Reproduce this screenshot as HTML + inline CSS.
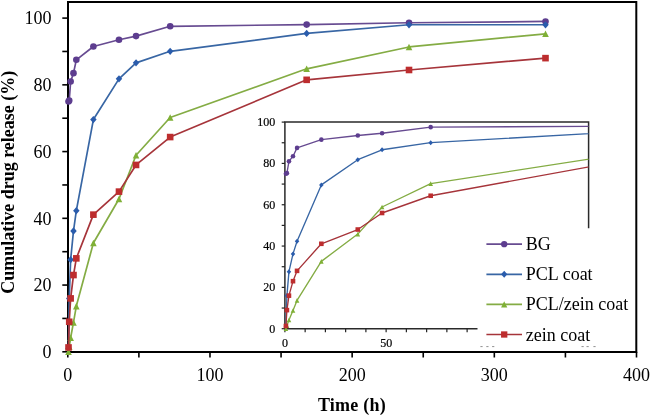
<!DOCTYPE html><html><head><meta charset="utf-8"><style>html,body{margin:0;padding:0;background:#fff;width:650px;height:415px;overflow:hidden}svg{display:block;will-change:transform}text{font-family:"Liberation Serif",serif}</style></head><body>
<svg width="650" height="415" viewBox="0 0 650 415">
<rect width="650" height="415" fill="#fff"/>
<path d="M68 352V2H636.3V352Z" fill="none" stroke="#000" stroke-width="2"/>
<line x1="62.3" y1="351.80" x2="67.8" y2="351.80" stroke="#000" stroke-width="1.6"/>
<line x1="62.3" y1="318.43" x2="67.8" y2="318.43" stroke="#000" stroke-width="1.6"/>
<line x1="62.3" y1="285.06" x2="67.8" y2="285.06" stroke="#000" stroke-width="1.6"/>
<line x1="62.3" y1="251.69" x2="67.8" y2="251.69" stroke="#000" stroke-width="1.6"/>
<line x1="62.3" y1="218.32" x2="67.8" y2="218.32" stroke="#000" stroke-width="1.6"/>
<line x1="62.3" y1="184.95" x2="67.8" y2="184.95" stroke="#000" stroke-width="1.6"/>
<line x1="62.3" y1="151.58" x2="67.8" y2="151.58" stroke="#000" stroke-width="1.6"/>
<line x1="62.3" y1="118.21" x2="67.8" y2="118.21" stroke="#000" stroke-width="1.6"/>
<line x1="62.3" y1="84.84" x2="67.8" y2="84.84" stroke="#000" stroke-width="1.6"/>
<line x1="62.3" y1="51.47" x2="67.8" y2="51.47" stroke="#000" stroke-width="1.6"/>
<line x1="62.3" y1="18.10" x2="67.8" y2="18.10" stroke="#000" stroke-width="1.6"/>
<line x1="67.80" y1="351.8" x2="67.80" y2="357.5" stroke="#000" stroke-width="1.6"/>
<line x1="138.89" y1="351.8" x2="138.89" y2="357.5" stroke="#000" stroke-width="1.6"/>
<line x1="209.98" y1="351.8" x2="209.98" y2="357.5" stroke="#000" stroke-width="1.6"/>
<line x1="281.06" y1="351.8" x2="281.06" y2="357.5" stroke="#000" stroke-width="1.6"/>
<line x1="352.15" y1="351.8" x2="352.15" y2="357.5" stroke="#000" stroke-width="1.6"/>
<line x1="423.24" y1="351.8" x2="423.24" y2="357.5" stroke="#000" stroke-width="1.6"/>
<line x1="494.32" y1="351.8" x2="494.32" y2="357.5" stroke="#000" stroke-width="1.6"/>
<line x1="565.41" y1="351.8" x2="565.41" y2="357.5" stroke="#000" stroke-width="1.6"/>
<line x1="636.50" y1="351.8" x2="636.50" y2="357.5" stroke="#000" stroke-width="1.6"/>
<polyline points="68.51,101.53 69.22,100.52 70.64,81.50 73.49,73.16 76.33,59.81 93.39,46.46 118.98,39.79 136.04,36.12 170.17,26.28 306.65,24.61 409.02,22.77 545.51,21.44" fill="none" stroke="#674b91" stroke-width="1.7" stroke-linejoin="round"/>
<circle cx="68.51" cy="101.53" r="3.30" fill="#5d3d8f"/>
<circle cx="69.22" cy="100.52" r="3.30" fill="#5d3d8f"/>
<circle cx="70.64" cy="81.50" r="3.30" fill="#5d3d8f"/>
<circle cx="73.49" cy="73.16" r="3.30" fill="#5d3d8f"/>
<circle cx="76.33" cy="59.81" r="3.30" fill="#5d3d8f"/>
<circle cx="93.39" cy="46.46" r="3.30" fill="#5d3d8f"/>
<circle cx="118.98" cy="39.79" r="3.30" fill="#5d3d8f"/>
<circle cx="136.04" cy="36.12" r="3.30" fill="#5d3d8f"/>
<circle cx="170.17" cy="26.28" r="3.30" fill="#5d3d8f"/>
<circle cx="306.65" cy="24.61" r="3.30" fill="#5d3d8f"/>
<circle cx="409.02" cy="22.77" r="3.30" fill="#5d3d8f"/>
<circle cx="545.51" cy="21.44" r="3.30" fill="#5d3d8f"/>
<polyline points="68.51,348.46 69.22,298.41 70.64,259.70 73.49,231.00 76.33,210.64 93.39,119.54 118.98,78.83 136.04,62.82 170.17,51.30 306.65,33.45 409.02,24.77 545.51,24.77" fill="none" stroke="#3866a4" stroke-width="1.7" stroke-linejoin="round"/>
<path d="M68.51 344.83L71.74 348.46L68.51 352.09L65.28 348.46Z" fill="#2a5cac"/>
<path d="M69.22 294.78L72.46 298.41L69.22 302.04L65.99 298.41Z" fill="#2a5cac"/>
<path d="M70.64 256.07L73.88 259.70L70.64 263.33L67.41 259.70Z" fill="#2a5cac"/>
<path d="M73.49 227.37L76.72 231.00L73.49 234.63L70.25 231.00Z" fill="#2a5cac"/>
<path d="M76.33 207.01L79.56 210.64L76.33 214.27L73.10 210.64Z" fill="#2a5cac"/>
<path d="M93.39 115.91L96.63 119.54L93.39 123.17L90.16 119.54Z" fill="#2a5cac"/>
<path d="M118.98 75.20L122.22 78.83L118.98 82.46L115.75 78.83Z" fill="#2a5cac"/>
<path d="M136.04 59.19L139.28 62.82L136.04 66.45L132.81 62.82Z" fill="#2a5cac"/>
<path d="M170.17 47.67L173.40 51.30L170.17 54.93L166.93 51.30Z" fill="#2a5cac"/>
<path d="M306.65 29.82L309.89 33.45L306.65 37.08L303.42 33.45Z" fill="#2a5cac"/>
<path d="M409.02 21.14L412.25 24.77L409.02 28.40L405.79 24.77Z" fill="#2a5cac"/>
<path d="M545.51 21.14L548.74 24.77L545.51 28.40L542.27 24.77Z" fill="#2a5cac"/>
<polyline points="68.51,351.80 69.22,346.79 70.64,337.78 73.49,322.43 76.33,306.08 93.39,243.01 118.98,198.97 136.04,155.25 170.17,117.54 306.65,68.82 409.02,46.97 545.51,33.78" fill="none" stroke="#84ac44" stroke-width="1.7" stroke-linejoin="round"/>
<path d="M68.51 348.50L71.81 355.10L65.21 355.10Z" fill="#7fb036"/>
<path d="M69.22 343.49L72.52 350.09L65.92 350.09Z" fill="#7fb036"/>
<path d="M70.64 334.48L73.94 341.08L67.34 341.08Z" fill="#7fb036"/>
<path d="M73.49 319.13L76.79 325.73L70.19 325.73Z" fill="#7fb036"/>
<path d="M76.33 302.78L79.63 309.38L73.03 309.38Z" fill="#7fb036"/>
<path d="M93.39 239.71L96.69 246.31L90.09 246.31Z" fill="#7fb036"/>
<path d="M118.98 195.67L122.28 202.27L115.68 202.27Z" fill="#7fb036"/>
<path d="M136.04 151.95L139.34 158.55L132.74 158.55Z" fill="#7fb036"/>
<path d="M170.17 114.24L173.47 120.84L166.87 120.84Z" fill="#7fb036"/>
<path d="M306.65 65.52L309.95 72.12L303.35 72.12Z" fill="#7fb036"/>
<path d="M409.02 43.67L412.32 50.27L405.72 50.27Z" fill="#7fb036"/>
<path d="M545.51 30.48L548.81 37.08L542.21 37.08Z" fill="#7fb036"/>
<polyline points="68.51,347.46 69.22,321.77 70.64,298.41 73.49,275.05 76.33,258.36 93.39,214.65 118.98,191.62 136.04,164.93 170.17,137.06 306.65,79.83 409.02,69.99 545.51,58.14" fill="none" stroke="#a6343a" stroke-width="1.7" stroke-linejoin="round"/>
<rect x="65.21" y="344.16" width="6.60" height="6.60" fill="#bd2d2e"/>
<rect x="65.92" y="318.47" width="6.60" height="6.60" fill="#bd2d2e"/>
<rect x="67.34" y="295.11" width="6.60" height="6.60" fill="#bd2d2e"/>
<rect x="70.19" y="271.75" width="6.60" height="6.60" fill="#bd2d2e"/>
<rect x="73.03" y="255.06" width="6.60" height="6.60" fill="#bd2d2e"/>
<rect x="90.09" y="211.35" width="6.60" height="6.60" fill="#bd2d2e"/>
<rect x="115.68" y="188.32" width="6.60" height="6.60" fill="#bd2d2e"/>
<rect x="132.74" y="161.63" width="6.60" height="6.60" fill="#bd2d2e"/>
<rect x="166.87" y="133.76" width="6.60" height="6.60" fill="#bd2d2e"/>
<rect x="303.35" y="76.53" width="6.60" height="6.60" fill="#bd2d2e"/>
<rect x="405.72" y="66.69" width="6.60" height="6.60" fill="#bd2d2e"/>
<rect x="542.21" y="54.84" width="6.60" height="6.60" fill="#bd2d2e"/>
<text x="51.5" y="358.00" font-size="18" text-anchor="end">0</text>
<text x="51.5" y="291.26" font-size="18" text-anchor="end">20</text>
<text x="51.5" y="224.52" font-size="18" text-anchor="end">40</text>
<text x="51.5" y="157.78" font-size="18" text-anchor="end">60</text>
<text x="51.5" y="91.04" font-size="18" text-anchor="end">80</text>
<text x="51.5" y="24.30" font-size="18" text-anchor="end">100</text>
<text x="67.80" y="381" font-size="18" text-anchor="middle">0</text>
<text x="209.98" y="381" font-size="18" text-anchor="middle">100</text>
<text x="352.15" y="381" font-size="18" text-anchor="middle">200</text>
<text x="494.32" y="381" font-size="18" text-anchor="middle">300</text>
<text x="636.50" y="381" font-size="18" text-anchor="middle">400</text>
<text x="352" y="410.6" font-size="18" font-weight="bold" letter-spacing="0.25" text-anchor="middle">Time (h)</text>
<text transform="translate(13.5 182.3) rotate(-90)" font-size="18" font-weight="bold" text-anchor="middle">Cumulative drug release (%)</text>
<rect x="255" y="114" width="336" height="234" fill="#fff"/>
<clipPath id="ic"><rect x="284.9" y="119.1" width="303.7" height="212.6"/></clipPath>
<path d="M284.9 328.7V122.1H588.6V228.5" fill="none" stroke="#2a2a2a" stroke-width="1.5"/>
<line x1="284.3" y1="328.7" x2="588.6" y2="328.7" stroke="#2a2a2a" stroke-width="1.5"/>
<line x1="281.7" y1="328.70" x2="284.9" y2="328.70" stroke="#222" stroke-width="1.2"/>
<line x1="281.7" y1="308.04" x2="284.9" y2="308.04" stroke="#222" stroke-width="1.2"/>
<line x1="281.7" y1="287.38" x2="284.9" y2="287.38" stroke="#222" stroke-width="1.2"/>
<line x1="281.7" y1="266.72" x2="284.9" y2="266.72" stroke="#222" stroke-width="1.2"/>
<line x1="281.7" y1="246.06" x2="284.9" y2="246.06" stroke="#222" stroke-width="1.2"/>
<line x1="281.7" y1="225.40" x2="284.9" y2="225.40" stroke="#222" stroke-width="1.2"/>
<line x1="281.7" y1="204.74" x2="284.9" y2="204.74" stroke="#222" stroke-width="1.2"/>
<line x1="281.7" y1="184.08" x2="284.9" y2="184.08" stroke="#222" stroke-width="1.2"/>
<line x1="281.7" y1="163.42" x2="284.9" y2="163.42" stroke="#222" stroke-width="1.2"/>
<line x1="281.7" y1="142.76" x2="284.9" y2="142.76" stroke="#222" stroke-width="1.2"/>
<line x1="281.7" y1="122.10" x2="284.9" y2="122.10" stroke="#222" stroke-width="1.2"/>
<line x1="284.90" y1="328.7" x2="284.90" y2="332.3" stroke="#222" stroke-width="1.2"/>
<line x1="305.15" y1="328.7" x2="305.15" y2="332.3" stroke="#222" stroke-width="1.2"/>
<line x1="325.39" y1="328.7" x2="325.39" y2="332.3" stroke="#222" stroke-width="1.2"/>
<line x1="345.64" y1="328.7" x2="345.64" y2="332.3" stroke="#222" stroke-width="1.2"/>
<line x1="365.89" y1="328.7" x2="365.89" y2="332.3" stroke="#222" stroke-width="1.2"/>
<line x1="386.13" y1="328.7" x2="386.13" y2="332.3" stroke="#222" stroke-width="1.2"/>
<line x1="406.38" y1="328.7" x2="406.38" y2="332.3" stroke="#222" stroke-width="1.2"/>
<line x1="426.63" y1="328.7" x2="426.63" y2="332.3" stroke="#222" stroke-width="1.2"/>
<line x1="446.87" y1="328.7" x2="446.87" y2="332.3" stroke="#222" stroke-width="1.2"/>
<line x1="467.12" y1="328.7" x2="467.12" y2="332.3" stroke="#222" stroke-width="1.2"/>
<line x1="487.37" y1="328.7" x2="487.37" y2="332.3" stroke="#222" stroke-width="1.2"/>
<line x1="507.61" y1="328.7" x2="507.61" y2="332.3" stroke="#222" stroke-width="1.2"/>
<line x1="527.86" y1="328.7" x2="527.86" y2="332.3" stroke="#222" stroke-width="1.2"/>
<line x1="548.11" y1="328.7" x2="548.11" y2="332.3" stroke="#222" stroke-width="1.2"/>
<line x1="568.35" y1="328.7" x2="568.35" y2="332.3" stroke="#222" stroke-width="1.2"/>
<line x1="588.60" y1="328.7" x2="588.60" y2="332.3" stroke="#222" stroke-width="1.2"/>
<polyline points="285.91,173.75 286.92,173.13 288.95,161.35 293.00,156.19 297.05,147.92 321.34,139.66 357.79,135.53 382.08,133.26 430.68,127.16 625.04,126.13 770.82,124.99 965.19,124.17" fill="none" stroke="#674b91" stroke-width="1.35" stroke-linejoin="round" clip-path="url(#ic)"/>
<circle cx="285.91" cy="173.75" r="2.30" fill="#5d3d8f"/>
<circle cx="286.92" cy="173.13" r="2.30" fill="#5d3d8f"/>
<circle cx="288.95" cy="161.35" r="2.30" fill="#5d3d8f"/>
<circle cx="293.00" cy="156.19" r="2.30" fill="#5d3d8f"/>
<circle cx="297.05" cy="147.92" r="2.30" fill="#5d3d8f"/>
<circle cx="321.34" cy="139.66" r="2.30" fill="#5d3d8f"/>
<circle cx="357.79" cy="135.53" r="2.30" fill="#5d3d8f"/>
<circle cx="382.08" cy="133.26" r="2.30" fill="#5d3d8f"/>
<circle cx="430.68" cy="127.16" r="2.30" fill="#5d3d8f"/>
<polyline points="285.91,326.63 286.92,295.64 288.95,271.68 293.00,253.91 297.05,241.31 321.34,184.91 357.79,159.70 382.08,149.78 430.68,142.66 625.04,131.60 770.82,126.23 965.19,126.23" fill="none" stroke="#3866a4" stroke-width="1.35" stroke-linejoin="round" clip-path="url(#ic)"/>
<path d="M285.91 324.10L288.17 326.63L285.91 329.16L283.66 326.63Z" fill="#2a5cac"/>
<path d="M286.92 293.11L289.18 295.64L286.92 298.17L284.67 295.64Z" fill="#2a5cac"/>
<path d="M288.95 269.15L291.20 271.68L288.95 274.21L286.70 271.68Z" fill="#2a5cac"/>
<path d="M293.00 251.38L295.25 253.91L293.00 256.44L290.74 253.91Z" fill="#2a5cac"/>
<path d="M297.05 238.78L299.30 241.31L297.05 243.84L294.79 241.31Z" fill="#2a5cac"/>
<path d="M321.34 182.38L323.60 184.91L321.34 187.44L319.09 184.91Z" fill="#2a5cac"/>
<path d="M357.79 157.17L360.04 159.70L357.79 162.23L355.53 159.70Z" fill="#2a5cac"/>
<path d="M382.08 147.25L384.34 149.78L382.08 152.31L379.83 149.78Z" fill="#2a5cac"/>
<path d="M430.68 140.13L432.93 142.66L430.68 145.19L428.42 142.66Z" fill="#2a5cac"/>
<polyline points="285.91,328.70 286.92,325.60 288.95,320.02 293.00,310.52 297.05,300.40 321.34,261.35 357.79,234.08 382.08,207.01 430.68,183.67 625.04,153.50 770.82,139.97 965.19,131.81" fill="none" stroke="#84ac44" stroke-width="1.35" stroke-linejoin="round" clip-path="url(#ic)"/>
<path d="M285.91 326.40L288.21 331.00L283.61 331.00Z" fill="#7fb036"/>
<path d="M286.92 323.30L289.22 327.90L284.62 327.90Z" fill="#7fb036"/>
<path d="M288.95 317.72L291.25 322.32L286.65 322.32Z" fill="#7fb036"/>
<path d="M293.00 308.22L295.30 312.82L290.70 312.82Z" fill="#7fb036"/>
<path d="M297.05 298.10L299.35 302.70L294.75 302.70Z" fill="#7fb036"/>
<path d="M321.34 259.05L323.64 263.65L319.04 263.65Z" fill="#7fb036"/>
<path d="M357.79 231.78L360.09 236.38L355.49 236.38Z" fill="#7fb036"/>
<path d="M382.08 204.71L384.38 209.31L379.78 209.31Z" fill="#7fb036"/>
<path d="M430.68 181.37L432.98 185.97L428.38 185.97Z" fill="#7fb036"/>
<polyline points="285.91,326.01 286.92,310.11 288.95,295.64 293.00,281.18 297.05,270.85 321.34,243.79 357.79,229.53 382.08,213.00 430.68,195.75 625.04,160.32 770.82,154.23 965.19,146.89" fill="none" stroke="#a6343a" stroke-width="1.35" stroke-linejoin="round" clip-path="url(#ic)"/>
<rect x="283.61" y="323.71" width="4.60" height="4.60" fill="#bd2d2e"/>
<rect x="284.62" y="307.81" width="4.60" height="4.60" fill="#bd2d2e"/>
<rect x="286.65" y="293.34" width="4.60" height="4.60" fill="#bd2d2e"/>
<rect x="290.70" y="278.88" width="4.60" height="4.60" fill="#bd2d2e"/>
<rect x="294.75" y="268.55" width="4.60" height="4.60" fill="#bd2d2e"/>
<rect x="319.04" y="241.49" width="4.60" height="4.60" fill="#bd2d2e"/>
<rect x="355.49" y="227.23" width="4.60" height="4.60" fill="#bd2d2e"/>
<rect x="379.78" y="210.70" width="4.60" height="4.60" fill="#bd2d2e"/>
<rect x="428.38" y="193.45" width="4.60" height="4.60" fill="#bd2d2e"/>
<text x="275.2" y="332.70" font-size="12" stroke="#000" stroke-width="0.2" text-anchor="end">0</text>
<text x="275.2" y="291.38" font-size="12" stroke="#000" stroke-width="0.2" text-anchor="end">20</text>
<text x="275.2" y="250.06" font-size="12" stroke="#000" stroke-width="0.2" text-anchor="end">40</text>
<text x="275.2" y="208.74" font-size="12" stroke="#000" stroke-width="0.2" text-anchor="end">60</text>
<text x="275.2" y="167.42" font-size="12" stroke="#000" stroke-width="0.2" text-anchor="end">80</text>
<text x="275.2" y="126.10" font-size="12" stroke="#000" stroke-width="0.2" text-anchor="end">100</text>
<text x="284.90" y="346.9" font-size="12" stroke="#000" stroke-width="0.2" text-anchor="middle">0</text>
<text x="386.13" y="346.9" font-size="12" stroke="#000" stroke-width="0.2" text-anchor="middle">50</text>
<rect x="477.5" y="228.5" width="125" height="121" fill="#fff"/>
<line x1="486.4" y1="244.20" x2="522" y2="244.20" stroke="#674b91" stroke-width="1.7"/>
<circle cx="504.20" cy="244.20" r="3.15" fill="#5d3d8f"/>
<text x="525.8" y="250.20" font-size="18">BG</text>
<line x1="486.4" y1="274.30" x2="522" y2="274.30" stroke="#3866a4" stroke-width="1.7"/>
<path d="M504.20 270.84L507.29 274.30L504.20 277.76L501.11 274.30Z" fill="#2a5cac"/>
<text x="525.8" y="280.30" font-size="18">PCL coat</text>
<line x1="486.4" y1="304.40" x2="522" y2="304.40" stroke="#84ac44" stroke-width="1.7"/>
<path d="M504.20 301.25L507.35 307.55L501.05 307.55Z" fill="#7fb036"/>
<text x="525.8" y="310.40" font-size="18">PCL/zein coat</text>
<line x1="486.4" y1="334.50" x2="522" y2="334.50" stroke="#a6343a" stroke-width="1.7"/>
<rect x="501.05" y="331.35" width="6.30" height="6.30" fill="#bd2d2e"/>
<text x="525.8" y="340.50" font-size="18">zein coat</text>
<g fill="#9a9a9a"><rect x="480.4" y="346" width="2.2" height="1.1"/><rect x="486.3" y="346" width="2.2" height="1.1"/><rect x="492.1" y="346" width="2.2" height="1.1"/><rect x="581.5" y="346" width="2.2" height="1.1"/><rect x="586.5" y="346" width="2.2" height="1.1"/><rect x="593.4" y="346" width="2.2" height="1.1"/></g>
</svg></body></html>
